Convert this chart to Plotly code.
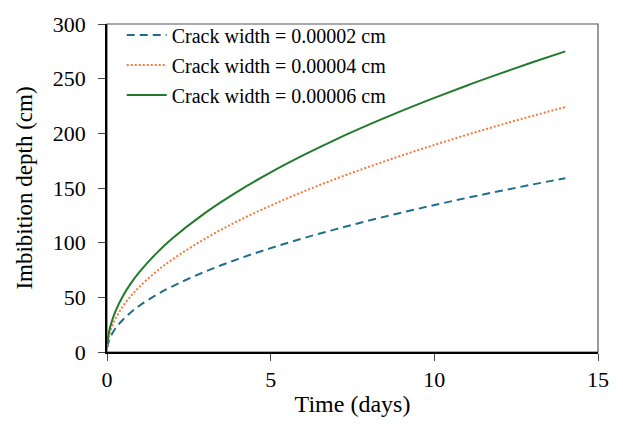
import plotly.graph_objects as go

time_days = [0.01, 0.05, 0.1, 0.25, 0.5, 0.75, 1, 1.5, 2, 3, 4, 5, 6, 7, 8, 9, 10, 11, 12, 13, 14]
depth_w2 = [4.3, 9.5, 13.4, 21.3, 30.0, 36.8, 42.5, 52.1, 60.1, 73.6, 85.0, 95.0, 104.1, 112.4, 120.2, 127.5, 134.4, 141.0, 147.2, 153.2, 159.0]
depth_w4 = [6.0, 13.4, 18.9, 30.0, 42.4, 51.9, 59.9, 73.4, 84.7, 103.7, 119.8, 133.9, 146.7, 158.5, 169.4, 179.7, 189.4, 198.7, 207.5, 216.0, 224.0]
depth_w6 = [7.4, 16.4, 23.2, 36.8, 52.0, 63.7, 73.5, 90.0, 104.0, 127.3, 147.0, 164.3, 180.0, 194.5, 207.9, 220.5, 232.4, 243.8, 254.6, 265.0, 275.0]
series_names = ["Crack width = 0.00002 cm", "Crack width = 0.00004 cm", "Crack width = 0.00006 cm"]
x_ticks = [0, 5, 10, 15]
y_ticks = [0, 50, 100, 150, 200, 250, 300]

colors = ["#1F6E8E", "#F4793B", "#237A2A"]
dashes = ["8px,5px", "2px,2px", "solid"]

fig = go.Figure()
for i, (name, ys) in enumerate(zip(series_names, [depth_w2, depth_w4, depth_w6])):
    fig.add_trace(go.Scatter(
        x=time_days, y=ys, mode="lines", name=name, legendgroup=str(i),
        line=dict(color=colors[i], dash=dashes[i], width=2, shape="spline"),
    ))

font_family = "Liberation Serif"
fig.update_layout(
    width=623, height=425,
    margin=dict(l=107, r=25, t=14, b=67),
    plot_bgcolor="white", paper_bgcolor="white",
    font=dict(family=font_family, color="black", size=22),
    showlegend=True,
    legend=dict(x=0.03, y=1.026, xanchor="left", yanchor="top",
                font=dict(size=20, family=font_family), bgcolor="rgba(0,0,0,0)",
                tracegroupgap=1, itemwidth=40),
    xaxis=dict(range=[0, 15], tickvals=x_ticks, ticks="outside", ticklen=7,
               showline=True, linecolor="black", linewidth=1.5, showgrid=False,
               zeroline=False, title=dict(text="Time (days)", font=dict(size=24), standoff=4),
               tickfont=dict(size=22)),
    yaxis=dict(range=[0, 300], tickvals=y_ticks, ticks="outside", ticklen=7,
               ticklabelstandoff=8,
               showline=True, linecolor="black", linewidth=1.5, showgrid=False,
               zeroline=False, title=dict(text="Imbibition depth (cm)", font=dict(size=23), standoff=14),
               tickfont=dict(size=22)),
    shapes=[dict(type="rect", xref="paper", yref="paper", x0=0, y0=0, x1=1, y1=1,
                 line=dict(color="#555555", width=1.2), layer="below")],
)

fig.write_html("out.html")
